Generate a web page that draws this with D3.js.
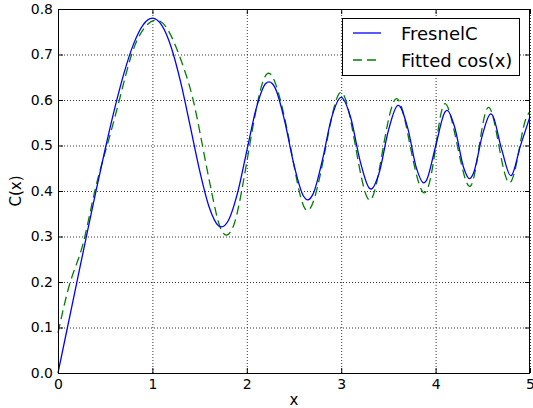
<!DOCTYPE html>
<html>
<head>
<meta charset="utf-8">
<script src="https://cdn.jsdelivr.net/npm/d3@7"></script>
<style>
  body { margin: 0; background: #fff; }
  text { font-family: "DejaVu Sans", sans-serif; }
</style>
</head>
<body>
<div id="chart"></div>
<script>

////////////////////////////////////////////////////////////////////////
/////  data   ///////////////////////////
////////////////////////////////////////////////////////////////////////

// FresnelC curve (solid blue)
var fresX = [0, 0.1, 0.2, 0.3, 0.4, 0.5, 0.6, 0.7, 0.8, 0.9, 1.0, 1.1, 1.2, 1.3, 1.4, 1.5, 1.6, 1.7, 1.732, 1.8, 1.9,
             2.0, 2.1, 2.2, 2.236, 2.3, 2.4, 2.5, 2.6, 2.646, 2.7, 2.8, 2.9, 3.0, 3.1, 3.2, 3.3, 3.317, 3.4, 3.5,
             3.6, 3.606, 3.7, 3.8, 3.873, 3.9, 4.0, 4.1, 4.123, 4.2, 4.3, 4.359, 4.4, 4.5, 4.583, 4.6, 4.7, 4.796,
             4.8, 4.9, 5.0]
var fresY = [0, 0.1000, 0.1999, 0.2994, 0.3975, 0.4923, 0.5811, 0.6597, 0.7228, 0.7648, 0.7799, 0.7638, 0.7154,
             0.6386, 0.5431, 0.4453, 0.3655, 0.3238, 0.3213, 0.3336, 0.3944, 0.4882, 0.5816, 0.6363, 0.6398, 0.6266,
             0.5550, 0.4574, 0.3890, 0.3804, 0.3925, 0.4675, 0.5624, 0.6058, 0.5616, 0.4663, 0.4058, 0.4044, 0.4385,
             0.5326, 0.5880, 0.5881, 0.5420, 0.4481, 0.4179, 0.4223, 0.4984, 0.5737, 0.5772, 0.5417, 0.4494, 0.4270,
             0.4383, 0.5261, 0.5695, 0.5673, 0.4914, 0.4337, 0.4338, 0.5002, 0.5636]

// fitted cos(x) curve (dashed green)
var fitX = [0, 0.13, 0.26, 0.39, 0.52, 0.65, 0.78, 0.91, 1.045, 1.17, 1.29, 1.42, 1.53, 1.63, 1.71, 1.787, 1.87,
            1.95, 2.03, 2.12, 2.26, 2.46, 2.645, 2.84, 3.0, 3.15, 3.30, 3.44, 3.585, 3.73, 3.88, 4.0, 4.10, 4.23,
            4.36, 4.46, 4.56, 4.67, 4.785, 4.89, 4.95, 5.0]
var fitY = [0.088, 0.200, 0.280, 0.400, 0.500, 0.600, 0.700, 0.757, 0.776, 0.752, 0.695, 0.610, 0.500, 0.395, 0.325,
            0.303, 0.330, 0.405, 0.500, 0.600, 0.655, 0.500, 0.357, 0.500, 0.617, 0.500, 0.380, 0.490, 0.603, 0.500,
            0.396, 0.495, 0.592, 0.500, 0.410, 0.496, 0.584, 0.500, 0.418, 0.497, 0.555, 0.575]

var xTicks = [0, 1, 2, 3, 4, 5]
var yTicks = [0, 0.1, 0.2, 0.3, 0.4, 0.5, 0.6, 0.7, 0.8]
var legendText = ['FresnelC', 'Fitted cos(x)']

////////////////////////////////////////////////////////////////////////
/////  layout   ////////////////////////////////////////////////////////
////////////////////////////////////////////////////////////////////////

var W = 533, H = 408
var m = {left: 58, right: 3, top: 9, bottom: 35}

var svg = d3.select('#chart').append('svg')
    .attr('width', W)
    .attr('height', H)

var x = d3.scaleLinear().domain([0, 5]).range([m.left, W - m.right])
var y = d3.scaleLinear().domain([0, 0.8]).range([H - m.bottom, m.top])

// dotted grid
svg.append('g').selectAll('line').data(xTicks).join('line')
    .attr('x1', d => x(d) + 0.5).attr('x2', d => x(d) + 0.5)
    .attr('y1', m.top).attr('y2', H - m.bottom)
    .attr('stroke', '#000').attr('stroke-width', 0.8)
    .attr('stroke-dasharray', '1,2')

svg.append('g').selectAll('line').data(yTicks).join('line')
    .attr('x1', m.left).attr('x2', W - m.right)
    .attr('y1', d => y(d) + 0.5).attr('y2', d => y(d) + 0.5)
    .attr('stroke', '#000').attr('stroke-width', 0.8)
    .attr('stroke-dasharray', '1,2')

// curves
var fresData = fresX.map((d, i) => [d, fresY[i]])
var fitData = fitX.map((d, i) => [d, fitY[i]])

var lineFres = d3.line()
    .x(d => x(d[0]))
    .y(d => y(d[1]))
    .curve(d3.curveMonotoneX)

var lineFit = d3.line()
    .x(d => x(d[0]))
    .y(d => y(d[1]))
    .curve(d3.curveNatural)

svg.append('path')
    .datum(fitData)
    .attr('d', lineFit)
    .attr('fill', 'none')
    .attr('stroke', '#008000')
    .attr('stroke-width', 1.3)
    .attr('stroke-dasharray', '9,5')

svg.append('path')
    .datum(fresData)
    .attr('d', lineFres)
    .attr('fill', 'none')
    .attr('stroke', '#0000ff')
    .attr('stroke-width', 1.3)

// axes with inward ticks on all four sides
svg.append('g')
    .attr('transform', 'translate(0,' + (H - m.bottom) + ')')
    .call(d3.axisBottom(x).tickValues(xTicks).tickFormat(d3.format('d'))
        .tickSizeInner(-5).tickSizeOuter(0).tickPadding(6))
svg.append('g')
    .attr('transform', 'translate(' + m.left + ',0)')
    .call(d3.axisLeft(y).tickValues(yTicks).tickFormat(d3.format('.1f'))
        .tickSizeInner(-5).tickSizeOuter(0).tickPadding(5))
svg.append('g')
    .attr('transform', 'translate(0,' + m.top + ')')
    .call(d3.axisTop(x).tickValues(xTicks).tickFormat('')
        .tickSizeInner(-5).tickSizeOuter(0))
svg.append('g')
    .attr('transform', 'translate(' + (W - m.right) + ',0)')
    .call(d3.axisRight(y).tickValues(yTicks).tickFormat('')
        .tickSizeInner(-5).tickSizeOuter(0))

svg.selectAll('.domain').remove()
svg.selectAll('.tick line').attr('stroke', '#000')
svg.selectAll('.tick text')
    .attr('font-size', 14)
    .attr('font-family', 'DejaVu Sans')
    .attr('fill', '#000')

// frame
svg.append('rect')
    .attr('x', m.left + 0.5)
    .attr('y', m.top + 0.5)
    .attr('width', W - m.left - m.right - 1)
    .attr('height', H - m.top - m.bottom)
    .attr('fill', 'none')
    .attr('stroke', '#000')
    .attr('stroke-width', 1)

// axis labels
svg.append('text')
    .attr('x', (x(0) + x(5)) / 2)
    .attr('y', 405)
    .attr('text-anchor', 'middle')
    .attr('font-size', 15)
    .text('x')

svg.append('text')
    .attr('transform', 'translate(21,' + (y(0.4)) + ') rotate(-90)')
    .attr('text-anchor', 'middle')
    .attr('font-size', 15)
    .text('C(x)')

// legend
var lg = svg.append('g')
lg.append('rect')
    .attr('x', 342.5).attr('y', 18.5)
    .attr('width', 177).attr('height', 57)
    .attr('fill', '#fff')
    .attr('stroke', '#000')
    .attr('stroke-width', 1)

var lcols = ['#0000ff', '#008000']
var ldash = [null, '9,5']
for (i in legendText) {
  var ly = 33 + i * 27
  lg.append('line')
    .attr('x1', 353).attr('x2', 381)
    .attr('y1', ly).attr('y2', ly)
    .attr('stroke', lcols[i])
    .attr('stroke-width', 1.3)
    .attr('stroke-dasharray', ldash[i])
  lg.append('text')
    .attr('x', 401)
    .attr('y', ly + 7)
    .attr('font-size', 18)
    .text(legendText[i])
}

</script>
</body>
</html>
